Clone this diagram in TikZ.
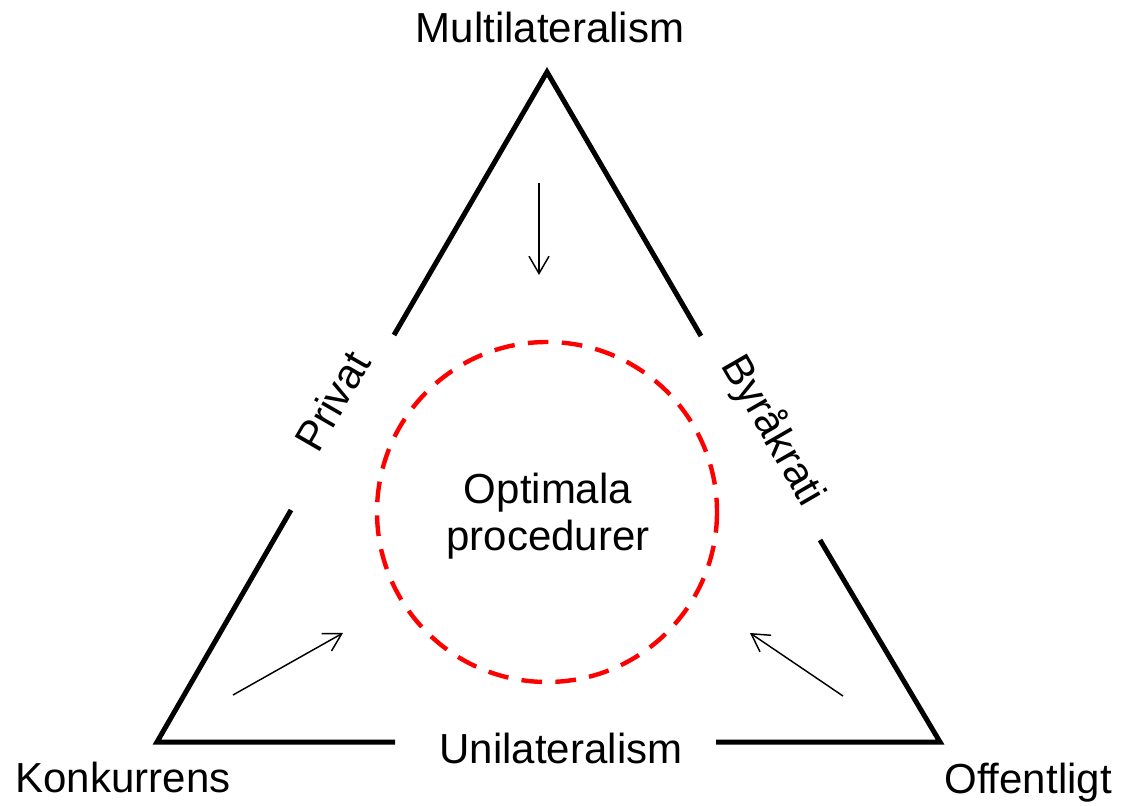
\documentclass[tikz,border=0pt]{standalone}
\usepackage{fontspec}
\setmainfont{Liberation Sans}
\usetikzlibrary{arrows.meta}
\begin{document}
\begin{tikzpicture}[x=0.75pt,y=-0.75pt,
  side/.style={line width=3.75pt, line join=miter, line cap=butt},
  ring/.style={draw=red, line width=3.3pt, dash pattern=on 15.5pt off 10pt},
  push/.style={line width=1.1pt, -{Straight Barb[length=13pt,width=15pt,line width=1.1pt]}},
  lab/.style={inner sep=0pt, font=\fontsize{31.5}{37}\selectfont},
  mid/.style={inner sep=0pt, align=center, font=\fontsize{31.5}{35.25}\selectfont}]
\useasboundingbox (0,0) rectangle (1121,806);
% triangle corners and gap ends
\coordinate (top) at (547,72);
\coordinate (bl) at (157,742);
\coordinate (br) at (940,742);
\coordinate (l1) at (394,335);
\coordinate (l2) at (291,510);
\coordinate (r1) at (701,336);
\coordinate (r2) at (820,540);
\coordinate (b1) at (395,742);
\coordinate (b2) at (716,742);
\draw[side] (l1) -- (top) -- (r1);
\draw[side] (l2) -- (bl) -- (b1);
\draw[side] (b2) -- (br) -- (r2);
% circle
\coordinate (c) at (547,512);
\draw[ring] (c) circle[radius=170];
\node[mid] (opt) at (548,516) {Optimala\\procedurer};
% labels
\node[lab, anchor=base] (multi) at (550,43) {Multilateralism};
\node[lab, anchor=base] (konk) at (123,792) {Konkurrens};
\node[lab, anchor=base] (off) at (1028,793) {Offentligt};
\node[lab, anchor=base] (uni) at (561,763) {Unilateralism};
\node[lab, rotate=60] (priv) at (332,401) {Privat};
\node[lab, rotate=-60, anchor=base] (byr) at (762,437) {Byråkrati};
% arrows
\coordinate (a1s) at (539,183);
\coordinate (a1e) at (539,275);
\coordinate (a2s) at (233,695);
\coordinate (a2e) at (343,633);
\coordinate (a3s) at (843,696);
\coordinate (a3e) at (750,633);
\draw[push] (a1s) -- (a1e);
\draw[push] (a2s) -- (a2e);
\draw[push] (a3s) -- (a3e);
\end{tikzpicture}
\end{document}
